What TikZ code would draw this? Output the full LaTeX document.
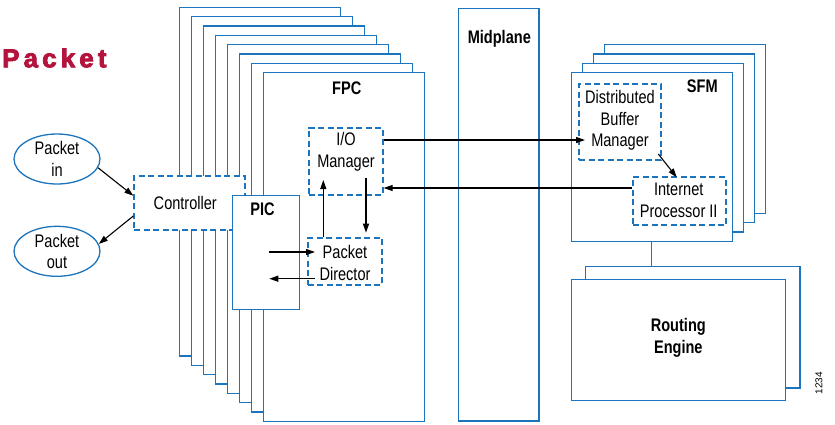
\documentclass[tikz,border=0pt]{standalone}
\usepackage{fontspec}
\setmainfont{Liberation Sans}
\newfontfamily\nf[FakeStretch=0.8]{Liberation Sans}
\newfontfamily\titlefont[FakeBold=3]{Liberation Sans Bold}
\usetikzlibrary{arrows.meta,shapes.geometric,calc}
\definecolor{jblue}{HTML}{1C75BC}
\definecolor{jred}{HTML}{B3133D}
\begin{document}
\begin{tikzpicture}[x=1pt,y=-1pt,
  box/.style={draw=jblue,line width=1.3pt,fill=white,rectangle,inner sep=0pt},
  dbox/.style={draw=jblue,line width=2pt,dash pattern=on 6pt off 3.5pt,fill=white,rectangle,inner sep=0pt},
  lbl/.style={font=\nf\fontsize{18.2}{21.5}\selectfont,align=center,inner sep=0pt},
  blbl/.style={font=\nf\bfseries\fontsize{18.2}{21.5}\selectfont,align=center,inner sep=0pt},
  oval/.style={ellipse,draw=jblue,line width=1.3pt,fill=white,minimum width=86pt,minimum height=50pt,inner sep=0pt,align=center,font=\nf\fontsize{18.2}{21.5}\selectfont},
  arr/.style={-{Triangle[length=9pt,width=6pt]},line width=1.1pt,black},
  ln/.style={draw=jblue,line width=1.3pt}]
\useasboundingbox (0,0) rectangle (835,424);

% title
\node[anchor=base west,inner sep=0pt,text=jred,font=\titlefont\fontsize{26}{30}\selectfont] (title) at (2,67.3)
  {P\kern4.1pt a\kern4.1pt c\kern4.1pt k\kern4.1pt e\kern4.1pt t};

% FPC stack
\foreach \i in {0,...,7}
  \node[box,minimum width=161.3pt,minimum height=348.7pt] (fpc\i) at ({260+12*\i},{181.67+9.33*\i}) {};
\node[blbl] (fpclbl) at (346.7,88.3) {FPC};

% Controller
\node[dbox,minimum width=111pt,minimum height=54.3pt] (ctrl) at (189.8,202.85) {};
\node[lbl] (ctrltxt) at (185.3,202.8) {Controller};

% PIC
\node[box,minimum width=66.6pt,minimum height=113.6pt] (pic) at (266,252.5) {};
\node[blbl] (piclbl) at (262.5,209.5) {PIC};

% I/O Manager
\node[dbox,minimum width=73.7pt,minimum height=67.3pt] (io) at (345.8,161.3) {};
\node[lbl] (iotxt) at (346,152) {I/O\\Manager};

% Packet Director
\node[dbox,minimum width=74pt,minimum height=47.6pt] (pd) at (344.7,261.5) {};
\node[lbl] (pdtxt) at (345,263) {Packet\\Director};

% Midplane
\node[box,minimum width=80.7pt,minimum height=412.7pt] (mid) at (498.7,214.7) {};
\node[blbl] (midlbl) at (499.3,38.3) {Midplane};

% SFM stack
\foreach \k in {3,2,1,0}
  \node[box,minimum width=161pt,minimum height=168.6pt] (sfm\k) at ({652.2+11*\k},{157-9.33*\k}) {};
\node[blbl] (sfmlbl) at (702.3,86) {SFM};

\node[dbox,minimum width=81.7pt,minimum height=76pt] (dbm) at (620.2,122) {};
\node[lbl] (dbmtxt) at (620,120.5) {Distributed\\Buffer\\Manager};

\node[dbox,minimum width=93.3pt,minimum height=48pt] (ip) at (679.3,201.3) {};
\node[lbl] (iptxt) at (678.7,200.5) {Internet\\Processor II};

% Routing Engine
\node[box,minimum width=214.3pt,minimum height=121.7pt] (reback) at (692.8,327.2) {};
\node[box,minimum width=214pt,minimum height=121pt] (re) at (678.7,339.8) {};
\node[blbl] (relbl) at (678.3,338) {Routing\\Engine};

\coordinate (cx) at (651.7,250);
\draw[ln] (sfm0.south -| cx) -- (reback.north -| cx);

% Packet in / out
\node[oval] (pin) at (57,159) {Packet\\in};
\node[oval] (pout) at (57,251.3) {Packet\\out};

\coordinate (c1) at (0,195.7);
\coordinate (c2) at (0,216);
\draw[arr] (pin.-12) -- (ctrl.west |- c1);
\draw[arr] (ctrl.west |- c2) -- (pout.10);

% PIC <-> Packet Director
\coordinate (p1) at (269.3,252);
\coordinate (p2) at (315,252);
\coordinate (p3) at (315,278.7);
\coordinate (p4) at (269.3,278.7);
\draw[arr] (p1) -- (p2);
\draw[arr] (p3) -- (p4);

% PD <-> IO
\coordinate (u1) at (323.3,180);
\coordinate (d1) at (366,178);
\coordinate (d2) at (366,232.7);
\draw[arr] (pd.north -| u1) -- (u1);
\draw[arr] (d1) -- (d2);

% IO <-> SFM
\coordinate (h1) at (585,140);
\coordinate (h2) at (500,188);
\draw[arr] (io.east |- h1) -- (h1);
\draw[arr] (ip.west |- h2) -- (io.east |- h2);

% DBM -> IP
\coordinate (g1) at (658.3,154);
\coordinate (g2) at (676.7,177.3);
\draw[arr] (g1) -- (g2);

% figure number
\node[rotate=90,inner sep=0pt,font=\fontsize{10}{12}\selectfont] (fignum) at (819,383) {1234};
\end{tikzpicture}
\end{document}
